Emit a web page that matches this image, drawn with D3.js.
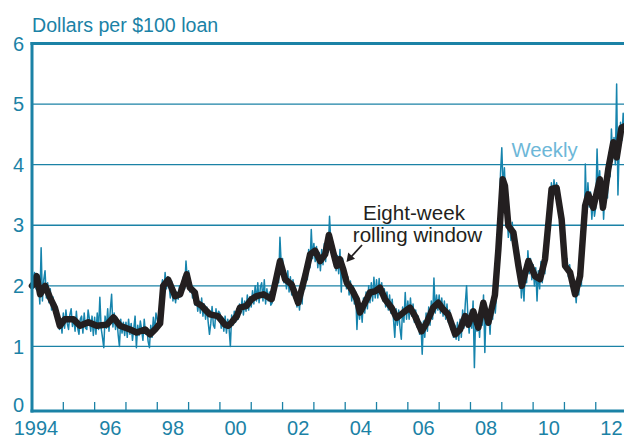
<!DOCTYPE html>
<html>
<head>
<meta charset="utf-8">
<script src="https://cdn.jsdelivr.net/npm/d3@7"></script>
<style>
  html, body { margin: 0; padding: 0; background: #fff; }
  svg { display: block; font-family: "Liberation Sans", Arial, Helvetica, sans-serif; }
</style>
</head>
<body>
<div id="chart"></div>
<script>
// ---------- DATA ----------
const yTicks = [0, 1, 2, 3, 4, 5, 6];
const yearTicks = [1995,1996,1997,1998,1999,2000,2001,2002,2003,2004,2005,2006,2007,2008,2009,2010,2011,2012];
const labelYears = [1994, 1996, 1998, 2000, 2002, 2004, 2006, 2008, 2010, 2012];
const labelTexts = ["1994", "96", "98", "00", "02", "04", "06", "08", "10", "12"];

// Eight-week rolling window (dates in fractional years)
const rollDates = [
  1994.00,1994.04,1994.15,1994.26,1994.42,1994.57,1994.73,1994.89,
  1995.05,1995.32,1995.53,1995.80,
  1996.07,1996.39,1996.60,1996.81,
  1997.13,1997.34,1997.61,1997.77,1997.93,
  1998.09,1998.19,1998.35,1998.57,1998.73,1998.94,
  1999.04,1999.20,1999.26,1999.42,1999.52,1999.68,1999.94,
  2000.16,2000.27,2000.38,2000.54,2000.64,2000.85,
  2001.01,2001.17,2001.39,2001.65,2001.79,2001.92,
  2002.08,2002.29,2002.50,2002.72,2002.88,
  2003.04,2003.20,2003.36,2003.48,2003.62,2003.73,2003.83,2003.94,
  2004.05,2004.21,2004.37,2004.47,2004.63,2004.79,2004.95,
  2005.11,2005.27,2005.48,2005.64,2005.86,
  2006.07,2006.23,2006.44,2006.60,2006.81,2006.97,
  2007.13,2007.29,2007.51,2007.67,2007.83,2007.93,
  2008.09,2008.25,2008.41,2008.57,2008.78,2008.89,
  2009.03,2009.10,2009.21,2009.37,2009.53,2009.64,2009.85,
  2010.06,2010.22,2010.38,2010.59,2010.75,2010.91,
  2011.02,2011.18,2011.34,2011.50,2011.66,2011.76,2011.92,
  2012.13,2012.23,2012.40,2012.56,2012.67,2012.82,2012.95
];
const rollValues = [
  2.00,2.02,2.16,1.86,2.00,1.81,1.64,1.34,
  1.45,1.45,1.34,1.40,
  1.34,1.36,1.48,1.34,
  1.28,1.23,1.28,1.20,1.28,
  1.38,2.00,2.10,1.83,1.86,2.19,
  1.97,1.89,1.72,1.67,1.61,1.53,1.50,
  1.36,1.34,1.40,1.50,1.64,1.67,
  1.78,1.83,1.86,1.78,2.10,2.41,
  2.11,2.02,1.72,2.16,2.52,
  2.58,2.41,2.52,2.84,2.55,2.33,2.44,2.27,
  2.05,1.94,1.78,1.56,1.72,1.89,1.91,
  1.97,1.78,1.64,1.47,1.56,
  1.64,1.50,1.25,1.39,1.64,1.72,
  1.61,1.53,1.20,1.28,1.50,1.36,
  1.58,1.31,1.72,1.39,1.85,2.60,
  3.76,3.65,2.99,2.88,2.33,2.00,2.41,
  2.16,2.11,2.44,3.60,3.62,3.10,
  2.33,2.22,1.86,2.16,3.32,3.51,3.29,
  3.76,3.29,3.93,4.37,4.12,4.61,4.64
];

// Weekly series, read twice a month starting January 1994
const weeklyStart = 1994;
const weeklyPerYear = 24;
const weeklyValues = [
  // 1994
  1.92,2.15,2.22,1.95,2.20,2.05,1.70,2.63,1.75,2.10,2.25,1.80,2.05,1.72,1.95,1.60,1.82,1.55,1.70,1.52,1.58,1.28,1.45,1.22,
  // 1995
  1.55,1.30,1.60,1.38,1.28,1.52,1.62,1.33,1.48,1.25,1.58,1.30,1.20,1.45,1.50,1.22,1.55,1.30,1.28,1.60,1.45,1.25,1.50,1.18,
  // 1996
  1.48,1.20,1.55,1.28,1.81,1.30,1.15,0.98,1.50,1.30,1.62,1.25,1.60,1.86,1.32,1.55,1.28,1.48,1.20,1.00,1.45,1.22,1.40,1.18,
  // 1997
  1.40,1.15,1.45,1.20,1.38,1.10,1.30,1.50,0.98,1.35,1.18,1.42,1.28,1.10,1.45,1.20,1.30,1.08,0.98,1.35,1.15,1.48,1.25,1.55,
  // 1998
  1.45,1.30,1.58,1.95,2.10,1.85,2.22,1.95,2.15,2.02,1.80,2.08,1.75,1.95,1.72,1.90,1.78,2.00,1.82,2.05,2.15,1.95,2.41,2.10,
  // 1999
  2.25,1.90,2.05,1.80,1.95,1.68,1.85,1.58,1.75,1.55,1.80,1.50,1.70,1.45,1.65,1.40,1.20,1.38,1.66,1.35,1.30,1.62,1.45,1.58,
  // 2000
  1.55,1.30,1.48,1.25,1.50,1.22,1.45,1.30,1.00,1.52,1.35,1.58,1.40,1.62,1.45,1.70,1.55,1.80,1.52,1.75,1.58,1.85,1.60,1.82,
  // 2001
  1.65,1.92,1.70,2.00,1.75,2.05,1.72,1.98,2.05,1.75,2.10,1.70,1.95,1.75,1.90,1.68,1.72,1.85,1.95,2.10,2.30,2.05,2.80,2.35,
  // 2002
  2.45,2.05,2.20,1.95,2.25,1.90,2.15,1.85,2.10,1.80,1.95,1.65,1.80,1.60,1.95,1.70,2.20,1.95,2.35,2.10,2.60,2.30,2.93,2.45,
  // 2003
  2.70,2.40,2.65,2.30,2.55,2.25,2.60,2.35,2.70,2.40,2.85,2.55,3.15,2.70,2.75,2.45,2.60,2.25,2.50,2.20,2.60,1.90,2.45,2.10,
  // 2004
  2.25,1.95,2.15,1.85,2.08,1.75,2.00,1.70,1.90,1.28,1.75,1.45,1.70,1.40,1.80,1.55,1.90,1.62,2.00,1.72,2.05,1.75,2.14,1.80,
  // 2005
  2.10,1.80,2.12,1.85,2.05,1.75,1.95,1.65,1.90,1.60,1.85,1.55,1.78,1.45,1.15,1.62,1.35,1.60,1.30,1.12,1.65,1.40,1.89,1.45,
  // 2006
  1.75,1.45,1.80,1.50,1.70,1.40,1.60,1.32,1.50,1.20,1.40,0.87,1.42,1.15,1.55,1.25,1.65,1.35,1.75,1.45,2.13,1.55,1.85,1.60,
  // 2007
  1.85,1.55,1.80,1.50,1.75,1.45,1.70,1.40,1.60,1.28,1.45,1.15,1.35,1.12,1.40,1.10,1.45,1.15,1.60,1.30,1.70,2.00,1.50,1.22,
  // 2008
  1.60,1.30,1.75,0.65,1.55,1.25,1.45,1.15,1.70,1.35,1.85,0.90,1.65,1.40,1.55,1.20,1.70,1.45,1.95,1.55,1.85,2.36,3.00,3.85,
  // 2009
  4.28,3.60,3.95,3.40,3.20,2.80,3.10,2.75,3.05,2.70,2.90,2.50,2.60,2.20,2.35,1.80,2.15,1.75,2.35,2.05,2.58,2.20,2.45,2.10,
  // 2010
  2.35,2.00,2.30,1.75,2.25,1.95,2.40,2.05,2.55,2.20,2.95,2.60,3.40,3.10,3.70,3.45,3.75,3.50,3.70,3.45,3.55,3.20,3.20,2.85,
  // 2011
  2.65,2.30,2.45,2.15,2.35,2.05,2.20,1.90,2.00,1.72,2.10,1.85,2.30,2.00,2.95,2.55,4.01,3.20,3.70,3.30,3.55,3.10,3.45,3.15,
  // 2012
  3.30,4.26,3.55,3.90,3.40,3.75,3.10,3.55,3.85,3.45,4.20,3.80,4.59,4.10,4.45,4.00,5.33,3.50,4.30,4.70,4.40,4.85,4.55,3.84
];

// ---------- CHART ----------
const W = 624, H = 438;
const teal = "#1b82a6";
const svg = d3.select("#chart").append("svg").attr("width", W).attr("height", H);

const x = d3.scaleLinear().domain([1994, 2013]).range([32, 32 + 19 * 31.32]);
const y = d3.scaleLinear().domain([0, 6]).range([407, 43.5]);

// gridlines
svg.append("g").selectAll("line").data(yTicks.filter(d => d > 0 && d < 6)).join("line")
  .attr("x1", x(1994)).attr("x2", x(2013))
  .attr("y1", d => y(d)).attr("y2", d => y(d))
  .attr("stroke", teal).attr("stroke-width", 1.3);

// weekly line
const weekly = weeklyValues.map((v, i) => ({ t: weeklyStart + i / weeklyPerYear, v }));
svg.append("path").datum(weekly)
  .attr("fill", "none").attr("stroke", "#1684ad").attr("stroke-width", 1.5)
  .attr("stroke-linejoin", "round")
  .attr("d", d3.line().x(d => x(d.t)).y(d => y(d.v)));

// rolling line
const roll = rollDates.map((t, i) => ({ t, v: rollValues[i] }));
svg.append("path").datum(roll)
  .attr("fill", "none").attr("stroke", "#231f20").attr("stroke-width", 6.5)
  .attr("stroke-linejoin", "round").attr("stroke-linecap", "round")
  .attr("d", d3.line().x(d => x(d.t)).y(d => y(d.v)));

// frame: left axis, top line, bottom axis
svg.append("line").attr("x1", x(1994)).attr("x2", x(1994)).attr("y1", y(6) - 1.5).attr("y2", 412.5)
  .attr("stroke", teal).attr("stroke-width", 3);
svg.append("line").attr("x1", x(1994) - 1.5).attr("x2", x(2013)).attr("y1", y(6)).attr("y2", y(6))
  .attr("stroke", teal).attr("stroke-width", 3);
svg.append("line").attr("x1", x(1994) - 1.5).attr("x2", x(2013)).attr("y1", 411).attr("y2", 411)
  .attr("stroke", teal).attr("stroke-width", 3);

// x tick marks
svg.append("g").selectAll("line").data(yearTicks).join("line")
  .attr("x1", d => x(d)).attr("x2", d => x(d))
  .attr("y1", 402).attr("y2", 411)
  .attr("stroke", teal).attr("stroke-width", 1.3);

// x labels
svg.append("g").selectAll("text").data(labelYears).join("text")
  .attr("x", (d, i) => i === 0 ? x(d) + 4 : x(d + 0.5))
  .attr("y", 435)
  .attr("text-anchor", "middle")
  .attr("fill", teal).attr("font-size", 20)
  .text((d, i) => labelTexts[i]);

// y labels
svg.append("g").selectAll("text").data(yTicks).join("text")
  .attr("x", 24).attr("y", d => y(d) - (d === 0 ? 2 : 0))
  .attr("dy", "0.36em")
  .attr("text-anchor", "end")
  .attr("fill", teal).attr("font-size", 20)
  .text(d => d);

// y title
svg.append("text").attr("x", 32).attr("y", 31.5)
  .attr("fill", teal).attr("font-size", 19.6)
  .text("Dollars per $100 loan");

// annotations
svg.append("text").attr("x", 511.5).attr("y", 156.5)
  .attr("fill", "#6db7d8").attr("font-size", 20.3).text("Weekly");

const ann = svg.append("text").attr("fill", "#231f20").attr("font-size", 20.6).attr("text-anchor", "middle");
ann.append("tspan").attr("x", 414).attr("y", 220).text("Eight-week");
ann.append("tspan").attr("x", 417.5).attr("y", 241.5).text("rolling window");

// arrow
svg.append("line").attr("x1", 362).attr("y1", 245).attr("x2", 351).attr("y2", 257)
  .attr("stroke", "#231f20").attr("stroke-width", 1.8);
svg.append("path")
  .attr("d", "M346.5,262 L348.2,252.6 L355,258.8 Z")
  .attr("fill", "#231f20");
</script>
</body>
</html>
